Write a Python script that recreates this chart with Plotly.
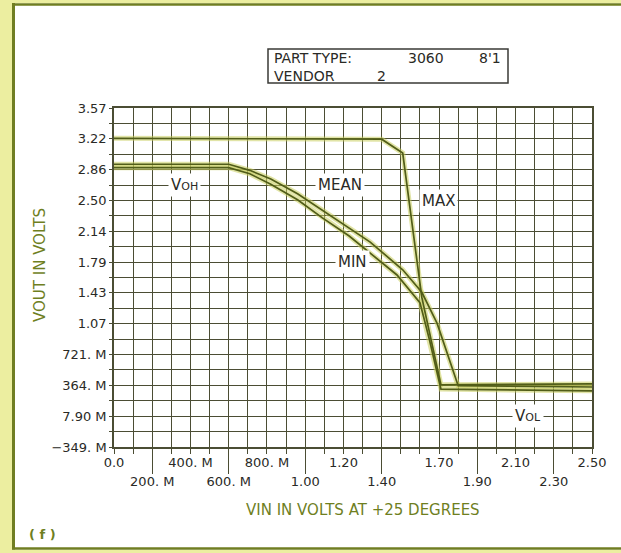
import plotly.graph_objects as go

# ---- transfer curves: output voltage vs input voltage -------------------
vin_max = [0.0, 1.40, 1.51, 1.61, 1.71, 2.50]
vout_max = [3.22, 3.21, 3.05, 1.38, 0.37, 0.38]

vin_mean = [0.0, 0.60, 0.71, 0.82, 0.96, 1.09, 1.23, 1.34, 1.51, 1.61, 1.69, 1.80, 2.50]
vout_mean = [2.92, 2.92, 2.85, 2.75, 2.58, 2.39, 2.19, 2.02, 1.70, 1.44, 1.08, 0.36, 0.345]

vin_min = [0.0, 0.60, 0.71, 0.82, 0.96, 1.09, 1.23, 1.34, 1.48, 1.60, 1.65, 1.71, 2.50]
vout_min = [2.88, 2.88, 2.81, 2.69, 2.51, 2.30, 2.09, 1.89, 1.64, 1.32, 0.89, 0.32, 0.30]

# ---- axis ticks -----------------------------------------------------------
x_tick_vals = [0.0, 0.2, 0.4, 0.6, 0.8, 1.0, 1.2, 1.4, 1.7, 1.9, 2.1, 2.3, 2.5]
x_tick_text = ["0.0", "200. M", "400. M", "600. M", "800. M", "1.00", "1.20",
               "1.40", "1.70", "1.90", "2.10", "2.30", "2.50"]
y_tick_vals = [-0.349, 0.00728, 0.36356, 0.71984, 1.07612, 1.4324, 1.78868,
               2.14496, 2.50124, 2.85752, 3.2138, 3.57008]
y_tick_text = ["\u2212349. M", "7.90 M", "364. M", "721. M", "1.07", "1.43", "1.79",
               "2.14", "2.50", "2.86", "3.22", "3.57"]
x_range = [0.0, 2.5]
y_range = [-0.349, 3.5705]
x_grid_step = 0.1
y_grid_step = 0.17814

# ---- header text ----------------------------------------------------------
part_type = "3060"
part_code = "8'1"
vendor = "2"

W, H = 621, 553
ML, MR, MT, MB = 114, 29, 108, 106
PW, PH = W - ML - MR, H - MT - MB


def px_x(px):
    return (px - ML) / PW


def px_y(py):
    return (H - MB - py) / PH


FONT = "DejaVu Sans"
INK = "#2a2a26"
GRID = "#4b4d34"
OLIVE = "#6f7f1f"
GLOW = "rgba(200,206,92,0.55)"
CORE = "#515d18"

fig = go.Figure()

series = [(vin_max, vout_max, "MAX"), (vin_mean, vout_mean, "MEAN"), (vin_min, vout_min, "MIN")]

# soft yellow halo under each trace
for xs, ys, name in series:
    fig.add_trace(go.Scatter(x=xs, y=ys, mode="lines", name=name, showlegend=False,
                             hoverinfo="skip", line=dict(color=GLOW, width=5)))
# dark core line on top
for xs, ys, name in series:
    fig.add_trace(go.Scatter(x=xs, y=ys, mode="lines", name=name, showlegend=False,
                             xaxis="x2", line=dict(color=CORE, width=1.7)))

tick_font = dict(family=FONT, size=13, color=INK)

fig.update_layout(
    width=W, height=H,
    margin=dict(l=ML, r=MR, t=MT, b=MB, pad=0),
    paper_bgcolor="white", plot_bgcolor="white",
    showlegend=False,
    xaxis=dict(
        range=x_range, showline=True, mirror=True, linecolor=GRID, linewidth=1.6,
        zeroline=False, showgrid=False,
        tickmode="array", tickvals=x_tick_vals[::2], ticktext=x_tick_text[::2],
        ticks="outside", ticklen=5, tickwidth=1.3, tickcolor=GRID, tickfont=tick_font,
        ticklabelstandoff=-2,
        minor=dict(tick0=0.0, dtick=x_grid_step, showgrid=True, gridcolor=GRID,
                   gridwidth=1.3, ticks="outside", ticklen=5, tickwidth=1.3, tickcolor=GRID),
    ),
    xaxis2=dict(
        range=x_range, overlaying="x", anchor="y", side="bottom",
        showline=False, zeroline=False, showgrid=False,
        tickmode="array", tickvals=x_tick_vals[1::2], ticktext=x_tick_text[1::2],
        ticks="outside", ticklen=26, tickwidth=1.3, tickcolor=GRID, tickfont=tick_font,
        ticklabelstandoff=-4,
    ),
    yaxis=dict(
        range=y_range, showline=True, mirror=True, linecolor=GRID, linewidth=1.6,
        zeroline=False, showgrid=False,
        tickmode="array", tickvals=y_tick_vals, ticktext=y_tick_text,
        ticks="outside", ticklen=3, tickwidth=1.3, tickcolor=GRID, tickfont=tick_font,
        minor=dict(tick0=y_range[0], dtick=y_grid_step, showgrid=True, gridcolor=GRID,
                   gridwidth=1.3, ticks="outside", ticklen=3, tickwidth=1.3, tickcolor=GRID),
    ),
)

shapes = []
# page border: pale yellow margin with an olive rule
BAND = "rgb(236,238,160)"
for x0, x1, y0, y1 in [(0, 12, 0, 553), (0, 621, 0, 3), (0, 621, 550, 553)]:
    shapes.append(dict(type="rect", xref="paper", yref="paper",
                       x0=px_x(x0), x1=px_x(x1), y0=px_y(y1), y1=px_y(y0),
                       fillcolor=BAND, line=dict(width=0), layer="below"))
for x0, y0, x1, y1, w in [(13.5, 3, 13.5, 549.5, 3), (12, 4.5, 621, 4.5, 2.5),
                          (12, 548.5, 621, 548.5, 2.5)]:
    shapes.append(dict(type="line", xref="paper", yref="paper",
                       x0=px_x(x0), x1=px_x(x1), y0=px_y(y0), y1=px_y(y1),
                       line=dict(color="rgb(112,126,34)", width=w)))
# header box
shapes.append(dict(type="rect", xref="paper", yref="paper",
                   x0=px_x(268), x1=px_x(508), y0=px_y(83), y1=px_y(49),
                   line=dict(color="#3a3a36", width=1.5)))
fig.update_layout(shapes=shapes)

annotations = []


def paper_text(text, px, py, size=16, color=INK, xanchor="left", **kw):
    annotations.append(dict(text=text, xref="paper", yref="paper", x=px_x(px), y=px_y(py),
                            xanchor=xanchor, yanchor="middle", showarrow=False,
                            font=dict(family=FONT, size=size, color=color), **kw))


paper_text("PART TYPE:", 272, 58, size=14)
paper_text(part_type, 406, 58, size=14)
paper_text(part_code, 477, 58, size=14)
paper_text("VENDOR", 272, 75.5, size=14)
paper_text(vendor, 375, 75.5, size=14)

# axis titles
paper_text("VOUT IN VOLTS", 40, 265, size=15, color=OLIVE, xanchor="center", textangle=-90)
paper_text("VIN IN VOLTS AT +25 DEGREES", 363, 510, size=15, color=OLIVE, xanchor="center")
paper_text("<b>( f )</b>", 42, 534, size=13, color=OLIVE, xanchor="center")

# curve labels sit on grid rows with a white backing
curve_labels = [
    ("V<span style='font-size:11px'>OH</span>", 0.37, 2.679),
    ("MEAN", 1.18, 2.679),
    ("MAX", 1.695, 2.501),
    ("MIN", 1.245, 1.789),
    ("V<span style='font-size:11px'>OL</span>", 2.165, 0.007),
]
for text, x, y in curve_labels:
    annotations.append(dict(text=text, x=x, y=y, xref="x", yref="y", showarrow=False,
                            xanchor="center", yanchor="middle", bgcolor="white", borderpad=2,
                            font=dict(family=FONT, size=15, color=INK)))

fig.update_layout(annotations=annotations)

fig.write_html("out.html")
